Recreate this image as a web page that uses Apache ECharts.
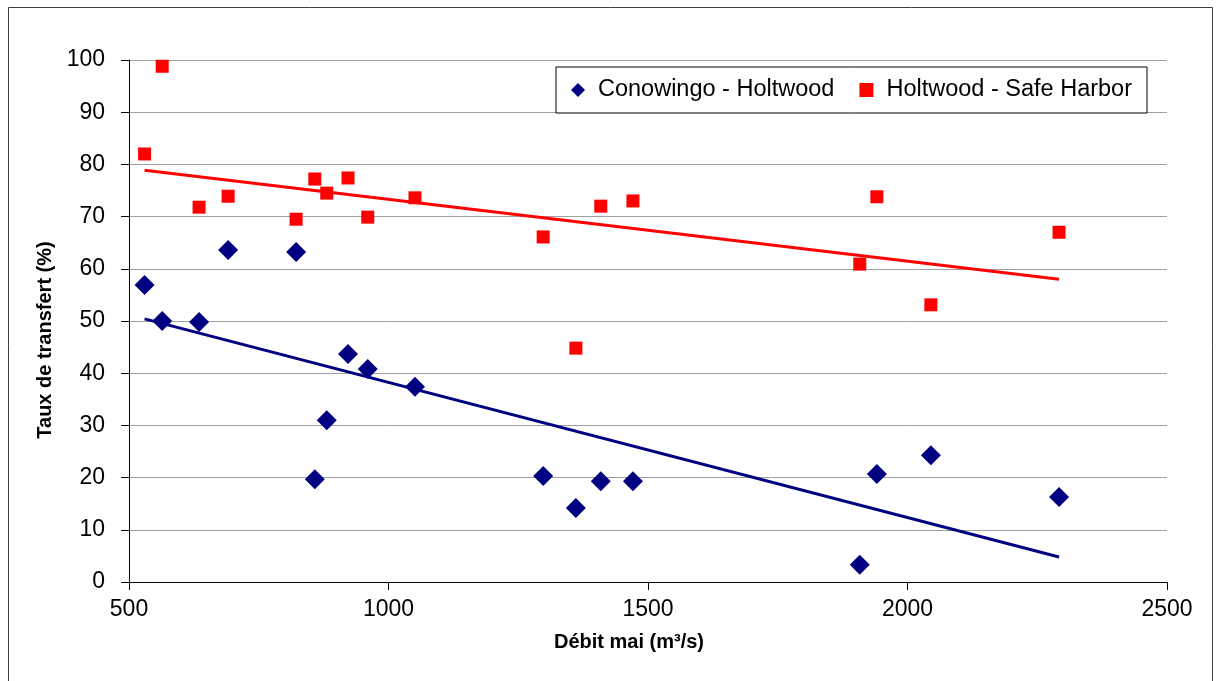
<!DOCTYPE html>
<html>
<head>
<meta charset="utf-8">
<script src="https://cdn.jsdelivr.net/npm/echarts@6/dist/echarts.min.js"></script>
<style>
html,body{margin:0;padding:0;background:#fff;}
#chart{width:1220px;height:681px;}
</style>
</head>
<body>
<div id="chart"></div>
<script>
// Débit mai (m³/s)
var debit = [530, 564, 635, 691, 822, 858, 881, 922, 960, 1051, 1298, 1361, 1409, 1471, 1908, 1941, 2045, 2292];
// Conowingo - Holtwood (%)
var conowingo = [56.9, 50.0, 49.8, 63.6, 63.2, 19.7, 31.0, 43.7, 40.8, 37.4, 20.3, 14.2, 19.3, 19.3, 3.3, 20.7, 24.3, 16.3];
// Holtwood - Safe Harbor (%)
var safeHarbor = [82.0, 98.8, 71.8, 73.9, 69.5, 77.2, 74.5, 77.4, 69.9, 73.6, 66.1, 44.8, 72.0, 73.0, 60.9, 73.8, 53.1, 67.0];
// Trend line end points
var trendX = [530, 2292];
var trendConowingo = [50.4, 4.8];
var trendSafeHarbor = [78.9, 58.0];
var xTicks = [500, 1000, 1500, 2000, 2500];
var yTicks = [0, 10, 20, 30, 40, 50, 60, 70, 80, 90, 100];
var seriesNames = ['Conowingo - Holtwood', 'Holtwood - Safe Harbor'];

function pairs(xs, ys) { return xs.map(function (x, i) { return [x, ys[i]]; }); }

var FONT = '"Liberation Sans", Arial, sans-serif';
var chart = echarts.init(document.getElementById('chart'), null, {renderer: 'canvas'});
chart.setOption({
  animation: false,
  backgroundColor: '#ffffff',
  textStyle: {fontFamily: FONT},
  graphic: [{
    type: 'rect', shape: {x: 8.5, y: 7.5, width: 1204, height: 700},
    style: {fill: 'none', stroke: '#404040', lineWidth: 1}, z: -1
  }],
  grid: {left: 129, right: 53, top: 60, bottom: 99},
  legend: {
    data: seriesNames,
    left: 556, top: 67,
    padding: [11, 15, 11, 15],
    itemGap: 25,
    itemWidth: 14, itemHeight: 14,
    borderColor: '#000', borderWidth: 1,
    backgroundColor: '#fff',
    textStyle: {fontSize: 23.5, color: '#000', fontFamily: FONT, padding: [0, 0, 0, 8]}
  },
  xAxis: {
    type: 'value', min: xTicks[0], max: xTicks[xTicks.length - 1], interval: 500,
    name: 'Débit mai (m³/s)', nameLocation: 'middle', nameGap: 50,
    nameTextStyle: {fontSize: 20, fontWeight: 'bold', color: '#000', fontFamily: FONT, padding: [0, 38, 0, 0]},
    axisLine: {show: true, lineStyle: {color: '#000', width: 1}},
    axisTick: {show: true, length: 8, lineStyle: {color: '#000'}},
    axisLabel: {fontSize: 23, color: '#000', margin: 16, fontFamily: FONT,
      formatter: function (v) { return String(v); }},
    splitLine: {show: false}
  },
  yAxis: {
    type: 'value', min: yTicks[0], max: yTicks[yTicks.length - 1], interval: 10,
    name: 'Taux de transfert (%)', nameLocation: 'middle', nameGap: 72,
    nameTextStyle: {fontSize: 20, fontWeight: 'bold', color: '#000', fontFamily: FONT, padding: [0, 38, 0, 0]},
    axisLine: {show: true, lineStyle: {color: '#000', width: 1}},
    axisTick: {show: true, length: 8, lineStyle: {color: '#000'}},
    axisLabel: {fontSize: 23, color: '#000', margin: 24, fontFamily: FONT},
    splitLine: {show: true, lineStyle: {color: '#a0a0a0', width: 1}}
  },
  series: [
    {
      name: seriesNames[0], type: 'scatter', symbol: 'diamond', symbolSize: 20,
      itemStyle: {color: '#000080', opacity: 1}, data: pairs(debit, conowingo), z: 3
    },
    {
      name: seriesNames[1], type: 'scatter', symbol: 'rect', symbolSize: 13,
      itemStyle: {color: '#ff0000', opacity: 1}, data: pairs(debit, safeHarbor), z: 3
    },
    {
      name: 'trend1', type: 'line', symbol: 'none', data: pairs(trendX, trendConowingo),
      lineStyle: {color: '#000080', width: 3}, z: 4, silent: true
    },
    {
      name: 'trend2', type: 'line', symbol: 'none', data: pairs(trendX, trendSafeHarbor),
      lineStyle: {color: '#ff0000', width: 3}, z: 4, silent: true
    }
  ]
});
</script>
</body>
</html>
